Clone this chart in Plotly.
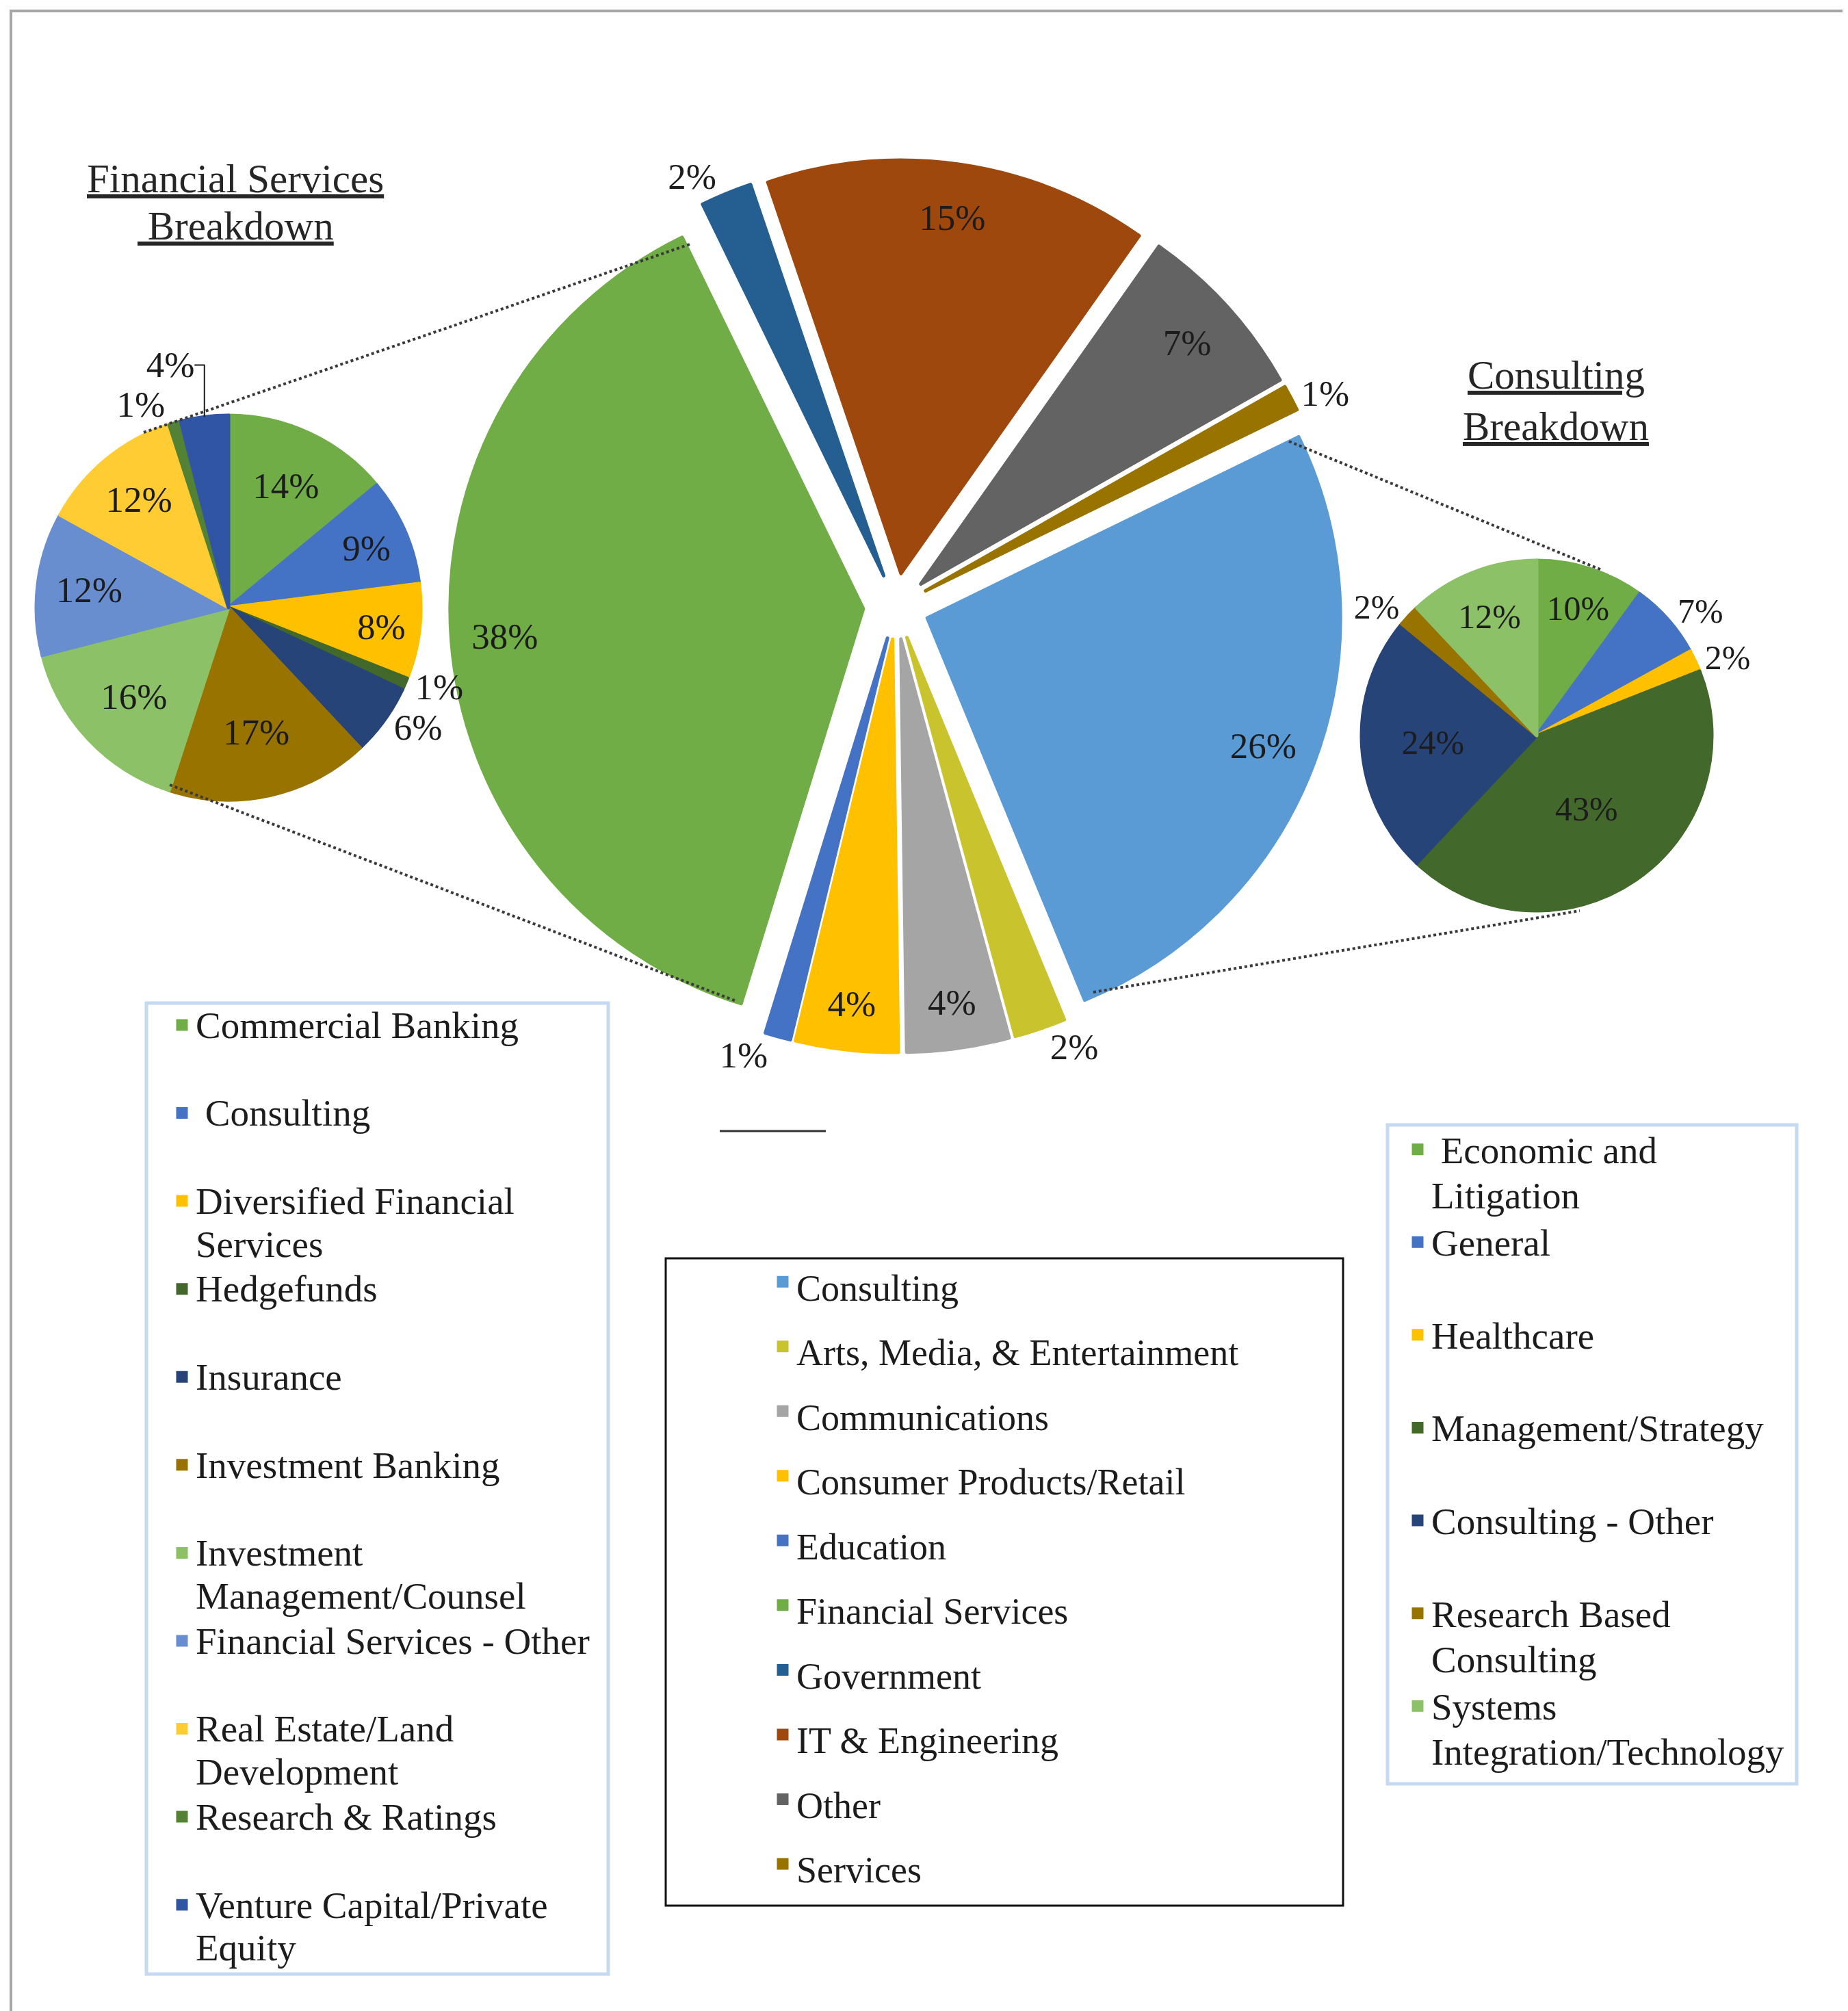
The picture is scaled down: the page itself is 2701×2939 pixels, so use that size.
import plotly.graph_objects as go

W, H = 2701, 2939

# ---- data -----------------------------------------------------------------
main_labels = ["Consulting", "Arts, Media, & Entertainment", "Communications",
               "Consumer Products/Retail", "Education", "Financial Services",
               "Government", "IT & Engineering", "Other", "Services"]
main_values = [26, 2, 4, 4, 1, 38, 2, 15, 7, 1]
main_colors = ["#5B9BD5", "#C9C42E", "#A5A5A5", "#FFC000", "#4472C4", "#70AD47",
               "#255E91", "#9E480E", "#636363", "#997300"]

fin_labels = ["Commercial Banking", "\u00a0Consulting", "Diversified Financial<br>Services",
              "Hedgefunds", "Insurance", "Investment Banking",
              "Investment<br>Management/Counsel", "Financial Services - Other",
              "Real Estate/Land<br>Development", "Research & Ratings",
              "Venture Capital/Private<br>Equity"]
fin_values = [14, 9, 8, 1, 6, 17, 16, 12, 12, 1, 4]
fin_colors = ["#70AD47", "#4472C4", "#FFC000", "#43682B", "#264478", "#997300",
              "#8CC168", "#698ED0", "#FFCD33", "#548235", "#2F55A4"]

con_labels = ["\u00a0Economic and<br>Litigation", "General", "Healthcare",
              "Management/Strategy", "Consulting - Other",
              "Research Based<br>Consulting", "Systems<br>Integration/Technology"]
con_values = [10, 7, 2, 43, 24, 2, 12]
con_colors = ["#70AD47", "#4472C4", "#FFC000", "#43682B", "#264478", "#997300",
              "#8CC168"]

titles = [("Financial Services", "\u00a0Breakdown"), ("Consulting", "Breakdown")]

FONT = "Liberation Serif"
TXT = "#1c1c1c"


def px_x(x):
    return x / W


def px_y(y):
    return 1 - y / H


def legend_text(label, size, slots):
    lines = label.split("<br>")
    lines += ["\u00a0"] * (slots - len(lines))
    return "<br>".join(f"<span style='font-size:{size}px'>{ln}</span>" for ln in lines)


def box(cx, cy, half):
    return dict(x=[px_x(cx - half), px_x(cx + half)],
                y=[px_y(cy + half), px_y(cy - half)])


fig = go.Figure()

# main pie (exploded); its labels come from a transparent ring on top,
# so that they sit near the outer edge as in the original
pull = 0.08
r_main = 604
main_dom = box(1302, 878, r_main * (1 + pull))
fig.add_trace(go.Pie(
    labels=[legend_text(l, 54, 1) for l in main_labels],
    values=main_values,
    marker=dict(colors=main_colors, line=dict(width=5, color=main_colors)),
    sort=False, direction="clockwise", rotation=64, pull=pull,
    domain=main_dom, textinfo="none",
    legend="legend2", legendgroup="main", hoverinfo="label+percent",
))
fig.add_trace(go.Pie(
    labels=main_labels, values=main_values,
    marker=dict(colors=["rgba(0,0,0,0)"] * len(main_values), line=dict(width=0)),
    sort=False, direction="clockwise", rotation=64, pull=pull, hole=0.74,
    domain=main_dom,
    texttemplate="%{value}%",
    textposition=["outside" if v <= 2 else "inside" for v in main_values],
    insidetextorientation="horizontal",
    textfont=dict(family=FONT, size=53, color=TXT),
    showlegend=False, hoverinfo="skip",
))

# financial services breakdown
fig.add_trace(go.Pie(
    labels=[legend_text(l, 55, 2) for l in fin_labels],
    values=fin_values,
    marker=dict(colors=fin_colors, line=dict(width=5, color=fin_colors)),
    sort=False, direction="clockwise", rotation=0,
    domain=box(326, 880, 281),
    texttemplate="%{value}%",
    textposition=["outside" if v <= 6 else "inside" for v in fin_values],
    insidetextorientation="horizontal",
    textfont=dict(family=FONT, size=53, color=TXT),
    legend="legend", legendgroup="fin", hoverinfo="label+percent",
))

# consulting breakdown
fig.add_trace(go.Pie(
    labels=[legend_text(l, 55, 2) for l in con_labels],
    values=con_values,
    marker=dict(colors=con_colors, line=dict(width=5, color=con_colors)),
    sort=False, direction="clockwise", rotation=0,
    domain=box(2238, 1067, 256),
    texttemplate="%{value}%",
    textposition=["outside" if v <= 7 else "inside" for v in con_values],
    insidetextorientation="horizontal",
    textfont=dict(family=FONT, size=50, color=TXT),
    legend="legend3", legendgroup="con", hoverinfo="label+percent",
))

leg_common = dict(xanchor="left", yanchor="top", bgcolor="rgba(0,0,0,0)",
                  borderwidth=0, valign="top", tracegroupgap=0)

fig.update_layout(
    width=W, height=H,
    margin=dict(l=0, r=0, t=0, b=0),
    paper_bgcolor="white", plot_bgcolor="white",
    font=dict(family=FONT, color=TXT),
    showlegend=True,
    legend=dict(x=px_x(238), y=px_y(1452), font=dict(family=FONT, size=48.3, color=TXT), **leg_common),
    legend2=dict(x=px_x(1116), y=px_y(1813), font=dict(family=FONT, size=70.4, color=TXT), **leg_common),
    legend3=dict(x=px_x(2044), y=px_y(1632), font=dict(family=FONT, size=51, color=TXT), **leg_common),
)

# titles of the breakdown pies (one annotation per line for tighter spacing)
title_pos = [(336, (253, 322)), (2266, (540, 615))]
for (l1, l2), (x, ys) in zip(titles, title_pos):
    for text, y in zip((l1, l2), ys):
        fig.add_annotation(text=text, x=px_x(x), y=px_y(y), xref="paper", yref="paper",
                           xanchor="center", yanchor="middle", showarrow=False,
                           font=dict(family=FONT, size=59, color="#262626",
                                     lineposition="under"))

# connectors, frames and border
dotted = dict(color="#3a3a3a", width=4, dash="dot")
for (x0, y0), (x1, y1) in [((202, 624), (1000, 349)),
                           ((240, 1139), (1068, 1455)),
                           ((1876, 637), (2333, 825)),
                           ((1590, 1442), (2301, 1323))]:
    fig.add_shape(type="line", xref="paper", yref="paper",
                  x0=px_x(x0), y0=px_y(y0), x1=px_x(x1), y1=px_y(y1), line=dotted)

frames = [((206, 1458), (881, 2877), "#C5D9F1", 5),
          ((965, 1831), (1955, 2777), "#111111", 3),
          ((2020, 1636), (2618, 2599), "#C5D9F1", 5)]
for (x0, y0), (x1, y1), col, wd in frames:
    fig.add_shape(type="rect", xref="paper", yref="paper",
                  x0=px_x(x0), y0=px_y(y0), x1=px_x(x1), y1=px_y(y1),
                  line=dict(color=col, width=wd))

fig.add_shape(type="line", xref="paper", yref="paper",
              x0=px_x(1044), y0=px_y(1645), x1=px_x(1199), y1=px_y(1645),
              line=dict(color="#333333", width=3))
fig.add_shape(type="rect", xref="paper", yref="paper",
              x0=px_x(8), y0=px_y(2960), x1=px_x(2697), y1=px_y(8),
              line=dict(color="#A6A6A6", width=4))

fig.write_html("out.html")
